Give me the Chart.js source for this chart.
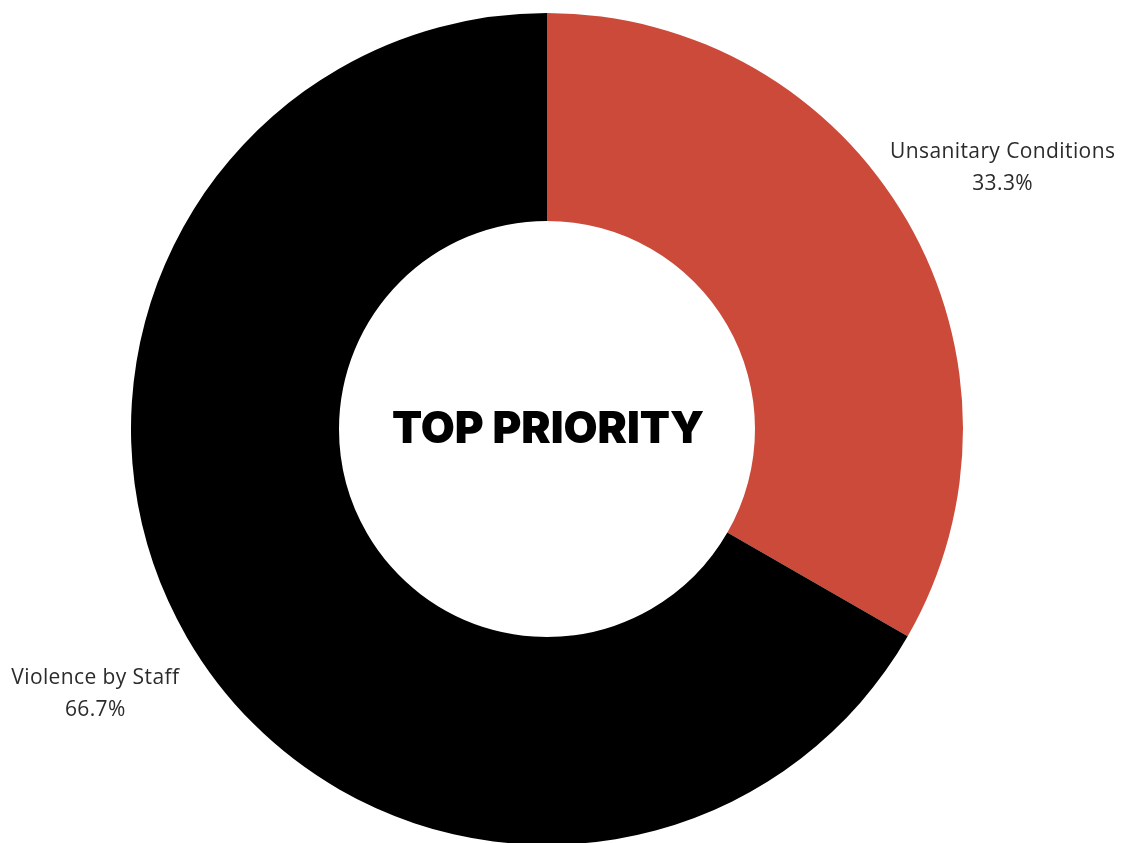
<!DOCTYPE html>
<html>
<head>
<meta charset="utf-8">
<script src="https://cdn.jsdelivr.net/npm/chart.js@4.4.1/dist/chart.umd.min.js"></script>
<style>
  html, body { margin: 0; padding: 0; background: #fff; overflow: hidden; }
  #wrap { position: relative; width: 1123px; height: 860px; }
</style>
</head>
<body>
<div id="wrap"><canvas id="priorityChart"></canvas></div>
<script>
// Slices, clockwise from 12 o'clock
const categories = ['Unsanitary Conditions', 'Violence by Staff'];
const shares = [33.3, 66.7];
const sliceColors = ['#CC4A3A', '#000000'];
const centerTitle = 'TOP PRIORITY';

// Outside labels: name + percent, placed out along each slice's mid angle
const outsideLabels = {
    id: 'outsideLabels',
    afterDatasetsDraw(chart) {
        const { ctx } = chart;
        const meta = chart.getDatasetMeta(0);
        const total = shares.reduce((a, b) => a + b, 0);
        ctx.save();
        ctx.fillStyle = '#2b2b2b';
        ctx.textAlign = 'center';
        ctx.textBaseline = 'middle';
        ctx.font = '400 21px "Open Sans", sans-serif';
        ctx.letterSpacing = '0.4px';
        meta.data.forEach((arc, i) => {
            const p = arc.getProps(['x', 'y', 'startAngle', 'endAngle', 'outerRadius'], true);
            const mid = (p.startAngle + p.endAngle) / 2;
            const r = p.outerRadius * 1.26;
            const x = p.x + Math.cos(mid) * r + 2;
            const y = p.y + Math.sin(mid) * r;
            const pct = (shares[i] / total * 100).toFixed(1) + '%';
            ctx.fillText(categories[i], x, y - 14);
            ctx.fillText(pct, x, y + 18);
        });
        ctx.restore();
    }
};

// Bold title in the hole
const centerText = {
    id: 'centerText',
    afterDraw(chart) {
        const { ctx } = chart;
        const arc = chart.getDatasetMeta(0).data[0];
        ctx.save();
        ctx.fillStyle = '#000';
        ctx.textAlign = 'center';
        ctx.textBaseline = 'middle';
        ctx.font = '900 44px Inter, sans-serif';
        ctx.fillText(centerTitle, arc.x + 1, arc.y + 1);
        ctx.restore();
    }
};

new Chart(document.getElementById('priorityChart'), {
    type: 'doughnut',
    data: {
        labels: categories,
        datasets: [{
            data: shares,
            backgroundColor: sliceColors,
            borderWidth: 0,
            hoverOffset: 0
        }]
    },
    options: {
        responsive: true,
        maintainAspectRatio: false,
        animation: false,
        cutout: '50%',
        layout: { padding: { top: 13, bottom: 15, left: 0, right: 29 } },
        plugins: {
            legend: { display: false },
            tooltip: { enabled: false }
        }
    },
    plugins: [outsideLabels, centerText]
});
</script>
</body>
</html>
